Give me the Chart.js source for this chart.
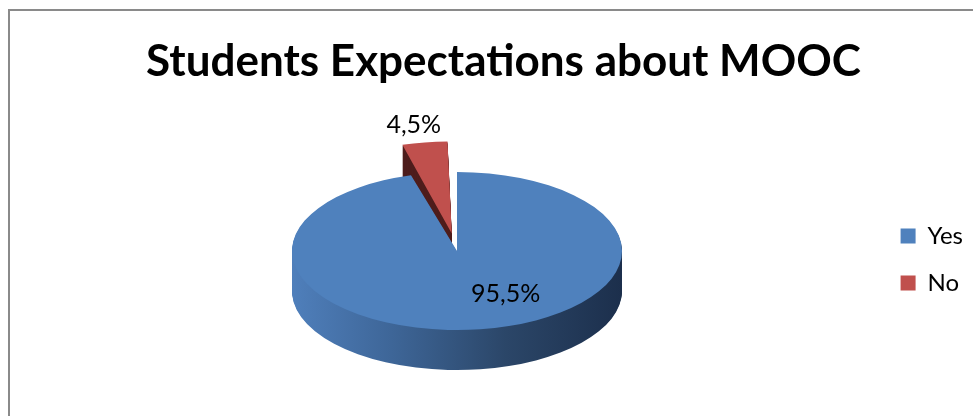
<!DOCTYPE html>
<html>
<head>
<meta charset="utf-8">
<title>Students Expectations about MOOC</title>
<script src="https://cdn.jsdelivr.net/npm/chart.js@4.4.1/dist/chart.umd.min.js"></script>
<style>
  html, body { margin: 0; padding: 0; background: #fff; }
  #wrap { position: relative; width: 973px; height: 416px; overflow: hidden; }
  #frame { position: absolute; left: 8px; top: 9px; width: 1100px; height: 500px;
           border-left: 2px solid #8a8a8a; border-top: 2px solid #8a8a8a; }
  canvas { position: absolute; left: 0; top: 0; }
</style>
</head>
<body>
<div id="wrap">
  <div id="frame"></div>
  <canvas id="pieChart" width="973" height="416"></canvas>
</div>
<script>
// answers and their shares (%)
var answers = ['Yes', 'No'];
var shares = [95.5, 4.5];
var shareLabels = ['95,5%', '4,5%'];

var topColors = ['#4f81bd', '#c0504d'];
var FONT = 'Lato, "Open Sans", sans-serif';

// flattened pie: where the top face sits on screen and how thick the wall is
var view = { cx: 457, cy: 251, rx: 165, ry: 79, depth: 40 };

function applyView(ctx, arc) {
    var R = arc.outerRadius;
    ctx.translate(view.cx, view.cy);
    ctx.scale(view.rx / R, view.ry / R);
    ctx.translate(-arc.x, -arc.y);
}

function drawArcWith(ctx, arc, fill) {
    var copy = Object.create(arc);
    copy.options = Object.assign({}, arc.options, { backgroundColor: fill });
    copy.draw(ctx);
}

function toScreen(arc, px, py) {
    var R = arc.outerRadius;
    return {
        x: view.cx + (px - arc.x) * view.rx / R,
        y: view.cy + (py - arc.y) * view.ry / R
    };
}

var pie3d = {
    id: 'pie3d',
    beforeDatasetsDraw: function (chart) {
        var ctx = chart.ctx;
        var meta = chart.getDatasetMeta(0);
        var a0 = meta.data[0];
        var R = a0.outerRadius;

        var blueSide = ctx.createLinearGradient(a0.x - R, 0, a0.x + R, 0);
        blueSide.addColorStop(0, '#4f7fbb');
        blueSide.addColorStop(0.3, '#3e6698');
        blueSide.addColorStop(0.65, '#2b4668');
        blueSide.addColorStop(1, '#1c2f4c');
        var sideFills = [blueSide, '#4e1d1c'];

        // side wall: stacked copies of each slice pushed down
        for (var i = view.depth; i >= 1; i--) {
            ctx.save();
            ctx.translate(0, i);
            applyView(ctx, a0);
            meta.data.forEach(function (arc, k) {
                drawArcWith(ctx, arc, sideFills[k]);
            });
            ctx.restore();
        }
        // top faces are drawn by the controller in the flattened space
        ctx.save();
        applyView(ctx, a0);
    },
    afterDatasetsDraw: function (chart) {
        var ctx = chart.ctx;
        ctx.restore();

        var meta = chart.getDatasetMeta(0);
        ctx.save();
        ctx.fillStyle = '#000';
        ctx.font = '25px ' + FONT;
        ctx.textAlign = 'center';
        ctx.textBaseline = 'middle';

        // big slice: label inside the top face
        var big = meta.data[0];
        var pb = big.tooltipPosition();
        var sb = toScreen(big, pb.x, pb.y);
        ctx.fillText(shareLabels[0], sb.x + 37, sb.y + 4);

        // small exploded slice: label above its rim
        var small = meta.data[1];
        var mid = (small.startAngle + small.endAngle) / 2;
        var push = small.outerRadius + small.options.offset * 0.43;
        var ss = toScreen(small, small.x + Math.cos(mid) * push, small.y + Math.sin(mid) * push);
        ctx.fillText(shareLabels[1], ss.x - 11, ss.y - 18);
        ctx.restore();
    }
};

var ctx1 = document.getElementById('pieChart').getContext('2d');
var pieChart = new Chart(ctx1, {
    type: 'pie',
    data: {
        labels: answers,
        datasets: [{
            label: 'Students Expectations about MOOC',
            data: shares,
            backgroundColor: topColors,
            borderWidth: 0,
            offset: [0, 90],
            radius: 100
        }]
    },
    options: {
        responsive: false,
        animation: false,
        events: [],
        layout: { padding: { left: 34, right: 0, bottom: 98 } },
        plugins: {
            title: {
                display: true,
                text: 'Students Expectations about MOOC',
                color: '#000',
                font: { family: FONT, size: 44, weight: 'bold' },
                padding: { top: 35, bottom: 10 }
            },
            legend: {
                position: 'right',
                align: 'end',
                labels: {
                    color: '#000',
                    font: { family: FONT, size: 24 },
                    boxWidth: 15,
                    boxHeight: 15,
                    padding: 23
                }
            },
            tooltip: { enabled: false }
        }
    },
    plugins: [pie3d]
});
</script>
</body>
</html>
